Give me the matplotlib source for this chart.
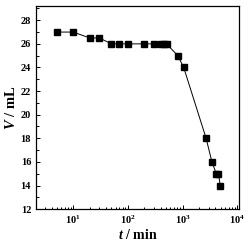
import matplotlib
matplotlib.use('Agg')
from matplotlib import pyplot as plt
from matplotlib.ticker import MultipleLocator, LogLocator, NullFormatter
import numpy as np

plt.rcParams['font.family'] = ['Liberation Serif', 'DejaVu Serif']
plt.rcParams['font.weight'] = 'bold'
plt.rcParams['mathtext.fontset'] = 'custom'
plt.rcParams['mathtext.rm'] = 'Liberation Serif:bold'
plt.rcParams['mathtext.it'] = 'Liberation Serif:italic:bold'
plt.rcParams['mathtext.bf'] = 'Liberation Serif:bold'

# time (min) and volume (mL)
t_min = [5, 10, 20, 30, 50, 70, 100, 200, 300, 400, 450, 510,
         820, 1050, 2700, 3450, 4150, 4550, 4900]
v_ml = [27, 27, 26.5, 26.5, 26, 26, 26, 26, 26, 26, 26, 26,
        25, 24, 18, 16, 15, 15, 14]

fig = plt.figure(figsize=(2.5, 2.44), dpi=100)
ax = fig.add_axes([0.144, 0.143, 0.812, 0.832])

ax.plot(t_min, v_ml, color='black', lw=0.7, marker='s', ms=4.0,
        markerfacecolor='black', markeredgecolor='black')

ax.set_xscale('log')
ax.set_xlim(2.08, 10800)
ax.set_ylim(12, 29.2)

ax.xaxis.set_major_locator(LogLocator(base=10, numticks=10))
ax.xaxis.set_minor_locator(LogLocator(base=10, subs=np.arange(2, 10), numticks=20))
ax.xaxis.set_minor_formatter(NullFormatter())
ax.yaxis.set_major_locator(MultipleLocator(2))
ax.yaxis.set_minor_locator(MultipleLocator(1))

ax.tick_params(which='both', direction='in', top=False, right=False,
               labelsize=7.5, width=0.7)
ax.tick_params(which='major', length=3)
ax.tick_params(which='minor', length=1.8)
for s in ax.spines.values():
    s.set_linewidth(0.9)

ax.set_xlabel('$t$ / min', fontsize=10, fontweight='bold', labelpad=1)
ax.set_ylabel('$V$ / mL', fontsize=10.5, fontweight='bold', labelpad=2)

fig.savefig('out.png', dpi=100)
